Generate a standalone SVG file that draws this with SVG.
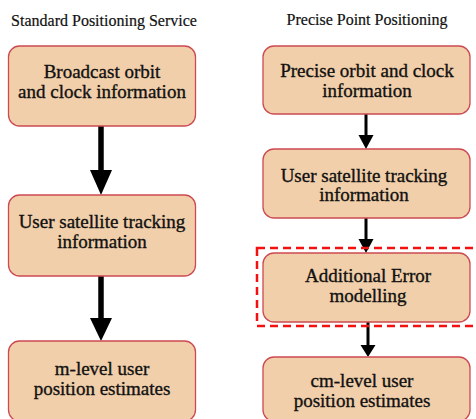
<svg xmlns="http://www.w3.org/2000/svg" width="476" height="419" viewBox="0 0 476 419">
<style>
.box{fill:#F1CFAA;stroke:#CD4A52;stroke-width:1.3}
.t{font-family:"Liberation Serif","Times New Roman",serif;font-size:19px;fill:#111;stroke:#111;stroke-width:0.35;text-anchor:middle}
.h{font-family:"Liberation Serif","Times New Roman",serif;font-size:16px;fill:#111;stroke:#111;stroke-width:0.2;text-anchor:middle}
.thick{stroke:#000;stroke-width:5.5;fill:none}
.thin{stroke:#000;stroke-width:3;fill:none}
</style>
<rect width="476" height="419" fill="#fff"/>
<text class="h" x="104" y="26">Standard Positioning Service</text>
<text class="h" x="367" y="25">Precise Point Positioning</text>
<g id="connectors">
<line class="thick" x1="101" y1="126" x2="101" y2="172"/>
<polygon points="90,170 112,170 101,195"/>
<line class="thick" x1="101" y1="276" x2="101" y2="320"/>
<polygon points="90,318 112,318 101,341"/>
<line class="thin" x1="366" y1="114" x2="366" y2="137"/>
<polygon points="358.5,135 373.5,135 366,149"/>
<line class="thin" x1="366" y1="218" x2="366" y2="241"/>
<polygon points="358.5,239 373.5,239 366,253"/>
<line class="thin" x1="368" y1="322" x2="368" y2="347"/>
<polygon points="360.5,345 375.5,345 368,357"/>
</g>
<g id="ppp-highlight">
<rect x="257" y="248" width="225" height="78" fill="none" stroke="#F21010" stroke-width="2.5" stroke-dasharray="8,5"/>
</g>
<g id="sps-1">
<rect class="box" x="8.5" y="46" width="187" height="80" rx="11"/>
<text class="t" x="102" y="78">Broadcast orbit</text>
<text class="t" x="102" y="98">and clock information</text>
</g>
<g id="sps-2">
<rect class="box" x="8.5" y="195" width="187" height="81" rx="11"/>
<text class="t" x="102" y="228">User satellite tracking</text>
<text class="t" x="102" y="248">information</text>
</g>
<g id="sps-3">
<rect class="box" x="8.5" y="341" width="187" height="80" rx="11"/>
<text class="t" x="102" y="375">m-level user</text>
<text class="t" x="102" y="395">position estimates</text>
</g>
<g id="ppp-1">
<rect class="box" x="263" y="46" width="207" height="68" rx="11"/>
<text class="t" x="367" y="77">Precise orbit and clock</text>
<text class="t" x="367" y="97">information</text>
</g>
<g id="ppp-2">
<rect class="box" x="263" y="149" width="207" height="69" rx="11"/>
<text class="t" x="364" y="182">User satellite tracking</text>
<text class="t" x="364" y="201">information</text>
</g>
<g id="ppp-3">
<rect class="box" x="263" y="253" width="207" height="69" rx="11"/>
<text class="t" x="368" y="282">Additional Error</text>
<text class="t" x="368" y="302">modelling</text>
</g>
<g id="ppp-4">
<rect class="box" x="263" y="357" width="207" height="64" rx="11"/>
<text class="t" x="362" y="387">cm-level user</text>
<text class="t" x="362" y="407">position estimates</text>
</g>
</svg>
